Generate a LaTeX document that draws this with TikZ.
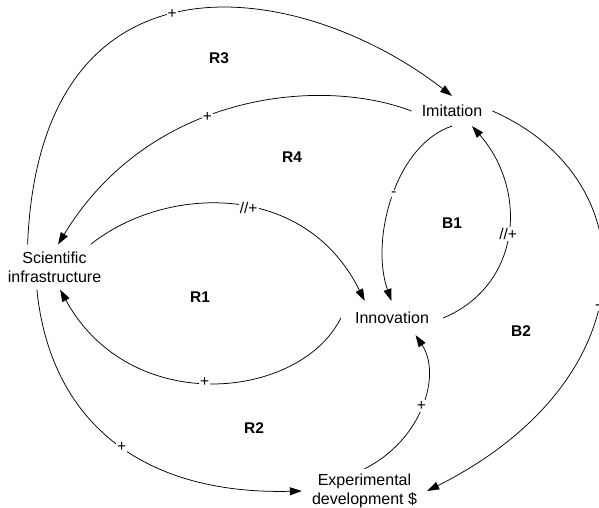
\documentclass[tikz,border=0pt]{standalone}
\usepackage{fontspec}
\setmainfont{Liberation Sans}
\usetikzlibrary{arrows.meta}
\begin{document}
\begin{tikzpicture}[x=1pt,y=-1pt,
  var/.style={font=\fontsize{16}{19}\selectfont, align=center, inner sep=0pt},
  loopname/.style={font=\fontsize{15.5}{18}\selectfont\bfseries},
  lbl/.style={font=\fontsize{15.5}{18}\selectfont, fill=white, inner sep=1.2pt},
  link/.style={line width=0.75pt, -{Triangle[length=12pt,width=8pt]}}
]
\useasboundingbox (0,0) rectangle (599,508);

\node[var, inner xsep=10pt, inner ysep=9pt] (imit) at (452,111) {Imitation};
\node[var, inner xsep=14pt, inner ysep=11pt] (innov) at (392,318) {Innovation};
\node[var, inner xsep=3pt, inner ysep=7pt] (scif) at (54.5,267) {Scientific\\infrastructure};
\node[var, inner xsep=10pt, inner ysep=5pt] (expd) at (364.5,491) {Experimental\\development \$};

\node[loopname] (r3) at (219,58) {R3};
\node[loopname] (r4) at (292,157) {R4};
\node[loopname] (r1) at (200,297) {R1};
\node[loopname] (r2) at (254,428) {R2};
\node[loopname] (b1) at (452,223) {B1};
\node[loopname] (b2) at (521,331) {B2};

% R3 outer: Scientific infrastructure -> Imitation
\draw[link] (scif.140) .. controls (40,-62) and (300,-22) .. node[lbl, pos=0.47] {+} (imit.north);
% R4: Imitation -> Scientific infrastructure
\draw[link] (imit.west) .. controls (320,76) and (150,93) .. node[lbl, pos=0.57] {+} (scif.81);
% Scientific infrastructure -> Innovation (delayed)
\draw[link] (scif.32) .. controls (165,185) and (305,180) .. node[lbl, pos=0.55] {//+} (innov.148);
% Innovation -> Scientific infrastructure
\draw[link] (innov.west) .. controls (300,400) and (130,418) .. node[lbl, pos=0.52] {+} (scif.-76);
% Scientific infrastructure -> Experimental development
\draw[link] (scif.-128) .. controls (50,420) and (140,495) .. node[lbl, pos=0.53] {+} (expd.west);
% Experimental development -> Innovation
\draw[link] (expd.north) .. controls (422,440) and (442,375) .. node[lbl, pos=0.5] {+} (innov.-36);
% Imitation -> Innovation
\draw[link] (imit.south) .. controls (395,145) and (370,240) .. node[lbl, pos=0.48] {-} (innov.92);
% Innovation -> Imitation (delayed)
\draw[link] (innov.east) .. controls (522,285) and (528,190) .. node[lbl, pos=0.5] {//+} (imit.-37);
% Imitation -> Experimental development
\draw[link] (imit.east) .. controls (650,180) and (648,380) .. node[lbl, pos=0.55] {-} (expd.east);
\end{tikzpicture}
\end{document}
